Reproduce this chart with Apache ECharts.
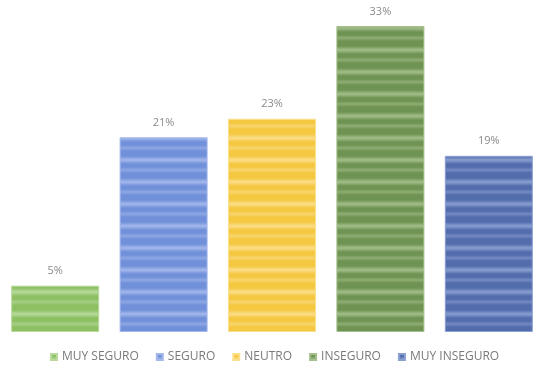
<!DOCTYPE html>
<html><head><meta charset="utf-8">
<script src="https://cdn.jsdelivr.net/npm/echarts@6/dist/echarts.min.js"></script>
<style>html,body{margin:0;padding:0;background:#fff}#c{width:534px;height:373px}</style>
</head><body><div id="c"></div>
<script>
const categories = ['MUY SEGURO','SEGURO','NEUTRO','INSEGURO','MUY INSEGURO'];
const values = [5, 21, 23, 33, 19];
const baseColors = ['#8dbf63','#7090d9','#f5c842','#6f9352','#536cac'];
const lightColors = ['#b8da9c','#a4b8ec','#fbdf8a','#a3bf8b','#8a9fd2'];

function stripe(base, light){
  const c = document.createElement('canvas');
  c.width = 8; c.height = 22;
  const g = c.getContext('2d');
  g.fillStyle = base; g.fillRect(0,0,8,22);
  const grad = g.createLinearGradient(0,2,0,10);
  grad.addColorStop(0, base); grad.addColorStop(0.5, light); grad.addColorStop(1, base);
  g.fillStyle = grad; g.fillRect(0,2,8,8);
  g.globalAlpha = 0.6;
  const grad2 = g.createLinearGradient(0,13,0,19);
  grad2.addColorStop(0, base); grad2.addColorStop(0.5, light); grad2.addColorStop(1, base);
  g.fillStyle = grad2; g.fillRect(0,13,8,6);
  return c;
}

const chart = echarts.init(document.getElementById('c'));
const series = categories.map((name, i) => ({
  name: name,
  type: 'bar',
  stack: 'all',
  barWidth: 88,
  data: values.map((v, j) => j === i ? v : '-'),
  itemStyle: {
    color: {image: stripe(baseColors[i], lightColors[i]), repeat: 'repeat'},
    borderColor: lightColors[i], borderWidth: 1
  },
  label: {
    show: true, position: 'top', distance: 9,
    formatter: '{c}%', color: '#8a8a8a', fontSize: 11,
    fontFamily: 'Open Sans'
  }
}));
chart.setOption({
  animation: false,
  color: baseColors,
  grid: {left: 1, width: 542, top: 26, bottom: 41, outerBoundsMode: 'none'},
  xAxis: {type: 'category', data: categories, show: false},
  yAxis: {type: 'value', min: 0, max: 33, show: false},
  legend: {
    bottom: 7, left: 47, itemWidth: 6, itemHeight: 6, itemGap: 17,
    icon: 'rect', padding: 3,
    textStyle: {color: '#7a7a7a', fontSize: 12, fontFamily: 'Open Sans'},
    data: categories
  },
  series: series
});
</script></body></html>
